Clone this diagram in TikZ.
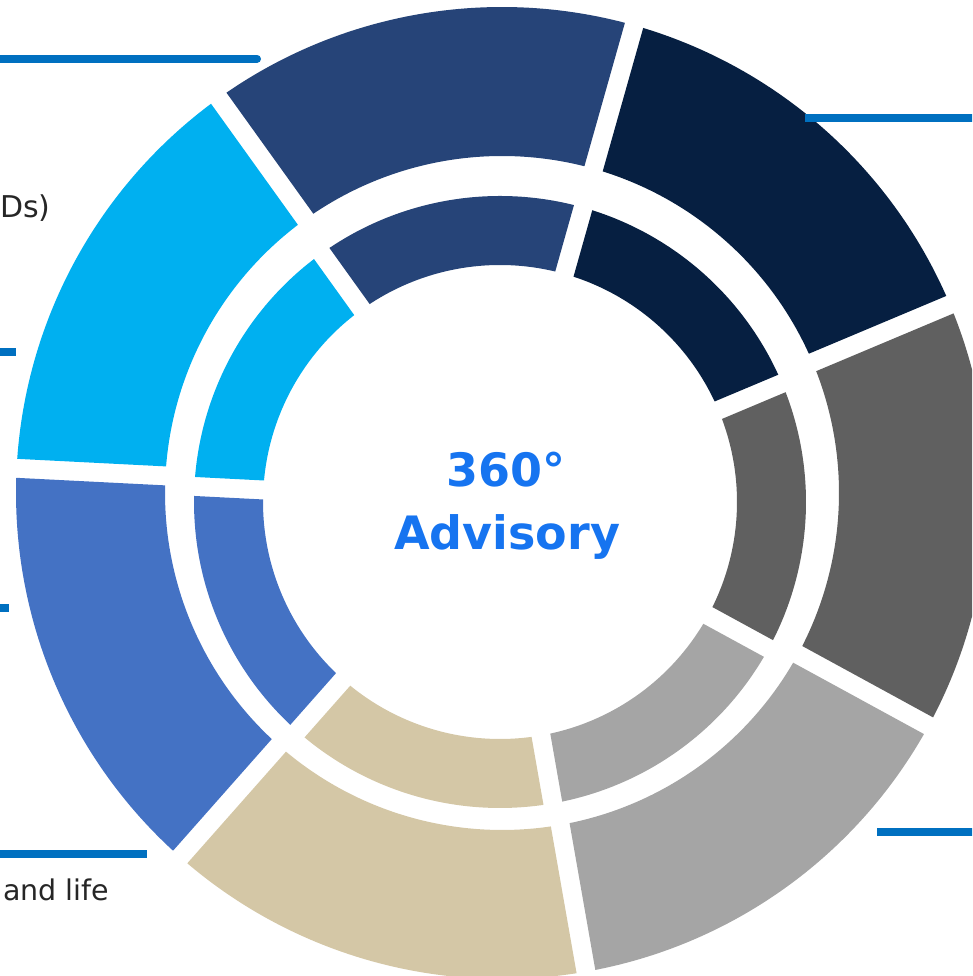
\documentclass[tikz,border=0pt]{standalone}
\usepackage{fontspec}
\setmainfont{DejaVu Sans}
\usetikzlibrary{calc}
\definecolor{ringNavy}{RGB}{6,31,65}
\definecolor{ringDeep}{RGB}{38,68,120}
\definecolor{ringCyan}{RGB}{0,176,240}
\definecolor{ringBlue}{RGB}{68,114,196}
\definecolor{ringSand}{RGB}{212,199,166}
\definecolor{ringSilver}{RGB}{165,165,165}
\definecolor{ringSlate}{RGB}{96,96,96}
\definecolor{leaderBlue}{RGB}{0,112,192}
\definecolor{hubBlue}{RGB}{22,116,240}
\definecolor{textGray}{RGB}{38,38,38}
% annular sector: colour, centre, inner radius, outer radius, start, end (gap 19pt)
\newcommand{\Secteur}[6]{%
  \fill[fill=#1] ($(#2)+({#5+asin(9.5/#4)}:#4pt)$)
    arc[start angle={#5+asin(9.5/#4)},end angle={#6-asin(9.5/#4)},radius=#4pt]
    -- ($(#2)+({#6-asin(9.5/#3)}:#3pt)$)
    arc[start angle={#6-asin(9.5/#3)},end angle={#5+asin(9.5/#3)},radius=#3pt] -- cycle;}

\begin{document}
\begin{tikzpicture}[x=1pt,y=1pt,
  hubText/.style={anchor=base,text=hubBlue,inner sep=0pt,font=\bfseries\fontsize{46}{46}\selectfont},
  sideText/.style={anchor=base west,text=textGray,inner sep=0pt,font=\fontsize{28.5}{28.5}\selectfont},
  leaderLine/.style={leaderBlue,line width=8pt}]
  \clip (0,0) rectangle (972,976);
  \coordinate (hubOuter) at (502,483);
  \coordinate (hubInner) at (500,474);
  \foreach \col [count=\i from 0] in {ringNavy,ringDeep,ringCyan,ringBlue,ringSand,ringSilver,ringSlate}{
    \pgfmathsetmacro\a{22.8+51.43*\i}
    \pgfmathsetmacro\b{\a+51.43}
    \Secteur{\col}{hubOuter}{337}{486}{\a}{\b}
    \Secteur{\col}{hubInner}{237}{306}{\a}{\b}
  }
  \node[hubText] (hubNum) at (506,489) {360°};
  \node[hubText] (hubWord) at (507,426) {Advisory};
  % leader lines running off the page
  \coordinate (tlA) at (-5,917.2);  \coordinate (tlB) at (257,917.2);
  \coordinate (trA) at (805,857.7); \coordinate (trB) at (980,857.7);
  \coordinate (lfA) at (-5,623.5);  \coordinate (lfB) at (16,623.5);
  \coordinate (lgA) at (-5,368);    \coordinate (lgB) at (9,368);
  \coordinate (blA) at (-5,122);    \coordinate (blB) at (147,122);
  \coordinate (brA) at (877,144);   \coordinate (brB) at (980,144);
  \draw[leaderLine,line cap=round] (tlA) -- (tlB);
  \draw[leaderLine] (trA) -- (trB);
  \draw[leaderLine] (lfA) -- (lfB);
  \draw[leaderLine] (lgA) -- (lgB);
  \draw[leaderLine] (blA) -- (blB);
  \draw[leaderLine] (brA) -- (brB);
  \node[sideText,font=\fontsize{30}{30}\selectfont] (capsNote) at (0,758) {Ds)};
  \node[sideText] (lifeNote) at (3,75) {and life};
\end{tikzpicture}
\end{document}
